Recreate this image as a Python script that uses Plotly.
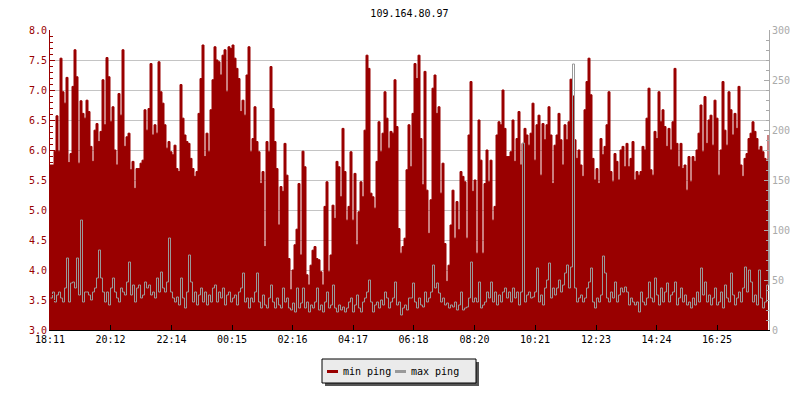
import plotly.graph_objects as go

# ---------------- data ----------------
start_label = "18:11"
sample_minutes = 4  # one sample every 4 minutes (2 px in the reference)

tick_labels = ["18:11", "20:12", "22:14", "00:15", "02:16", "04:17",
               "06:18", "08:20", "10:21", "12:23", "14:24", "16:25"]

# min ping (left axis)
min_ping = [
    # 18:11 - 22:10
    5.75, 5.75, 5.98, 6.57, 5.98, 7.53, 6.97, 6.78, 7.21, 5.79,
    5.94, 7.06, 7.67, 7.22, 5.78, 6.82, 6.61, 6.53, 6.83, 6.64,
    6.06, 5.81, 6.33, 6.44, 6.14, 6.31, 7.17, 6.42, 7.54, 7.22,
    6.47, 6.72, 6.00, 5.75, 6.94, 6.58, 7.67, 6.06, 6.22, 6.28,
    5.67, 5.81, 5.36, 5.69, 5.69, 5.78, 5.83, 6.67, 6.33, 6.69,
    7.44, 6.25, 6.42, 6.28, 7.47, 6.97, 6.78, 6.42, 6.03, 6.14,
    # 22:11 - 02:10
    5.97, 5.92, 6.08, 5.69, 5.64, 7.09, 6.53, 6.25, 6.14, 6.11,
    5.86, 5.69, 5.56, 5.64, 6.61, 7.19, 7.75, 5.89, 6.28, 5.97,
    6.67, 7.17, 7.72, 7.50, 7.47, 7.25, 7.58, 7.67, 6.97, 7.72,
    7.69, 7.75, 7.53, 7.36, 7.19, 6.64, 6.83, 6.58, 7.25, 7.72,
    5.97, 6.19, 6.72, 6.14, 5.97, 5.44, 5.64, 4.39, 6.14, 5.97,
    7.39, 6.69, 6.14, 5.69, 4.75, 5.39, 5.31, 6.11, 5.58, 4.19,
    # 02:11 - 06:10
    3.67, 4.00, 4.42, 4.68, 5.44, 4.25, 5.98, 5.72, 3.92, 3.75,
    4.08, 4.33, 4.39, 4.19, 4.17, 3.97, 3.75, 5.06, 5.47, 3.97,
    4.25, 5.08, 4.86, 5.81, 5.72, 5.22, 6.36, 5.64, 4.83, 5.06,
    5.97, 4.83, 5.61, 4.42, 4.97, 5.47, 5.22, 6.33, 7.58, 7.36,
    5.28, 5.22, 5.03, 5.81, 6.47, 5.97, 6.28, 6.97, 6.53, 6.03,
    6.31, 6.28, 7.17, 6.39, 4.69, 4.28, 4.39, 4.53, 5.67, 6.42,
    # 06:11 - 10:10
    5.72, 6.61, 7.44, 7.19, 7.58, 6.19, 5.42, 7.31, 5.33, 4.61,
    5.17, 7.03, 7.25, 6.61, 6.72, 5.28, 5.78, 4.44, 3.81, 4.08,
    4.75, 5.33, 4.53, 5.14, 4.67, 5.64, 5.56, 5.47, 4.53, 6.25,
    7.14, 5.31, 5.50, 4.28, 6.50, 5.83, 4.28, 5.44, 6.00, 5.47,
    5.83, 4.83, 5.06, 6.25, 6.47, 6.42, 7.00, 6.36, 5.89, 5.89,
    5.97, 6.50, 5.81, 6.19, 6.64, 5.75, 6.11, 6.36, 6.25, 6.08,
    # 10:11 - 14:10
    6.28, 6.78, 5.83, 6.42, 6.58, 5.58, 6.44, 6.17, 6.42, 6.72,
    6.25, 5.44, 6.08, 6.25, 6.61, 6.17, 5.75, 6.42, 6.17, 6.47,
    7.18, 6.90, 6.17, 5.86, 6.00, 5.75, 5.56, 6.67, 7.14, 7.53,
    6.92, 5.86, 5.50, 5.69, 5.44, 6.19, 5.92, 6.06, 6.42, 6.97,
    5.64, 5.47, 5.94, 5.81, 5.50, 6.00, 6.06, 5.72, 6.11, 5.72,
    5.86, 6.14, 5.50, 5.64, 5.58, 5.64, 6.06, 6.00, 6.53, 7.03,
    # 14:11 - 18:10
    5.67, 5.58, 6.31, 6.19, 6.97, 6.47, 6.67, 6.39, 6.06, 6.36,
    6.00, 6.47, 7.36, 6.11, 5.72, 6.11, 5.69, 5.75, 5.33, 5.89,
    5.47, 5.89, 5.81, 6.00, 6.28, 6.75, 5.97, 6.89, 6.11, 6.50,
    6.58, 6.08, 6.83, 6.53, 5.58, 6.00, 7.14, 6.33, 6.08, 6.97,
    6.67, 6.25, 6.61, 6.36, 7.06, 5.75, 5.56, 5.86, 5.94, 6.19,
    6.28, 6.47, 6.31, 6.19, 6.00, 6.06, 5.97, 5.86, 5.83, 6.25,
]

# max ping (right axis)
max_ping = [
    32, 38, 28, 35, 38, 32, 28, 42, 72, 28, 47, 48, 42, 72, 35, 110, 28, 38, 38, 35,
    30, 38, 42, 52, 80, 52, 38, 28, 38, 25, 42, 52, 38, 32, 28, 42, 38, 35, 48, 68,
    35, 45, 28, 42, 45, 32, 35, 48, 42, 45, 35, 38, 32, 52, 38, 58, 42, 38, 48, 92,
    38, 32, 28, 33, 25, 52, 32, 22, 38, 75, 48, 28, 38, 25, 35, 42, 28, 38, 25, 35,
    28, 42, 45, 28, 38, 32, 42, 25, 35, 38, 28, 32, 35, 25, 38, 42, 57, 28, 32, 22,
    32, 28, 38, 57, 28, 22, 35, 25, 22, 32, 45, 28, 22, 32, 25, 22, 42, 28, 32, 22,
    20, 27, 18, 42, 22, 27, 42, 22, 28, 18, 25, 22, 28, 42, 20, 25, 18, 28, 38, 22,
    25, 45, 22, 18, 25, 20, 23, 18, 22, 28, 32, 18, 25, 35, 22, 18, 28, 32, 38, 50,
    28, 18, 25, 28, 22, 30, 25, 38, 32, 22, 28, 32, 48, 25, 28, 15, 22, 25, 20, 32,
    32, 47, 28, 22, 32, 25, 23, 38, 28, 32, 38, 65, 42, 47, 37, 28, 32, 25, 27, 22,
    25, 23, 28, 20, 25, 38, 20, 22, 23, 32, 68, 28, 32, 28, 48, 22, 25, 28, 38, 32,
    48, 28, 38, 25, 35, 28, 38, 42, 32, 38, 28, 42, 32, 38, 25, 38, 187, 28, 35, 38,
    32, 33, 38, 62, 28, 35, 25, 42, 50, 67, 32, 42, 35, 42, 50, 38, 45, 57, 65, 42,
    63, 266, 42, 28, 32, 35, 28, 32, 42, 48, 62, 28, 22, 32, 28, 35, 74, 57, 32, 28,
    38, 32, 48, 28, 35, 42, 38, 43, 38, 25, 32, 28, 25, 28, 18, 38, 28, 25, 32, 48,
    32, 28, 52, 35, 25, 42, 28, 38, 47, 28, 35, 38, 48, 25, 32, 42, 28, 35, 25, 28,
    22, 32, 25, 38, 28, 62, 35, 48, 28, 35, 25, 32, 42, 25, 28, 38, 22, 45, 32, 28,
    57, 35, 25, 32, 38, 28, 42, 63, 38, 60, 48, 28, 35, 25, 60, 32, 22, 28, 45, 172,
]

series_names = ["min ping", "max ping"]
title_text = "109.164.80.97"

# ---------------- helpers ----------------
def to_min(label):
    h, m = label.split(":")
    return int(h) * 60 + int(m)

t0 = to_min(start_label)
tick_vals = [(to_min(t) - t0) % 1440 for t in tick_labels]
times = [i * sample_minutes for i in range(len(min_ping))]
# half-pixel offset so the 1px grey steps land on pixel centres (crisp)
times_line = [t + 1 for t in times]

RED = "#990000"
GREY = "#999999"
AXGREY = "#aaaaaa"
FONT = "DejaVu Sans Mono"

# plot area in pixels: x 50..769, y 30..330
L, R, T, B = 50, 769, 30, 330
def px(x):
    return (x - L) / (R - L)
def py(y):
    return (B - y) / (B - T)

fig = go.Figure()
fig.add_trace(go.Scatter(
    x=times, y=min_ping, name=series_names[0], mode="lines",
    line=dict(color=RED, width=1, shape="hv"),
    fill="tozeroy", fillcolor=RED, yaxis="y", showlegend=False,
))
fig.add_trace(go.Scatter(
    x=times_line, y=max_ping, name=series_names[1], mode="lines",
    line=dict(color=GREY, width=1, shape="hv"),
    yaxis="y2", showlegend=False,
))

fig.update_layout(
    width=800, height=400,
    margin=dict(l=L, r=800 - R, t=T, b=400 - B, autoexpand=False),
    paper_bgcolor="white", plot_bgcolor="white",
    font=dict(family=FONT, size=10, color="black"),
    title=dict(text=title_text, x=0.5, xref="paper", xanchor="center",
               y=1 - 13 / 400, yref="container", yanchor="middle",
               font=dict(family=FONT, size=10, color="black")),
    xaxis=dict(
        range=[0, 1438], tickvals=tick_vals, ticktext=tick_labels,
        ticks="inside", ticklen=5, tickcolor="black", tickwidth=1,
        showline=True, linecolor="black", linewidth=1,
        showgrid=False, zeroline=False,
        tickfont=dict(family=FONT, size=10, color="black"),
    ),
    yaxis=dict(
        range=[3, 8], dtick=0.5, tick0=3, tickformat=".1f",
        ticks="inside", ticklen=5, tickcolor=RED, tickwidth=1,
        showline=True, linecolor=RED, linewidth=1,
        showgrid=True, gridcolor="#c4c4c4", gridwidth=1, zeroline=False,
        tickfont=dict(family=FONT, size=10, color=RED),
        minor=dict(ticks="inside", dtick=0.1, ticklen=3, tickcolor=RED, showgrid=False),
    ),
    yaxis2=dict(
        range=[0, 300], dtick=50, tick0=0, overlaying="y", side="right",
        ticks="inside", ticklen=5, tickcolor=AXGREY, tickwidth=1,
        showline=True, linecolor=AXGREY, linewidth=1,
        showgrid=False, zeroline=False,
        tickfont=dict(family=FONT, size=10, color=AXGREY),
        minor=dict(ticks="inside", dtick=10, ticklen=3, tickcolor=AXGREY, showgrid=False),
    ),
)

# legend box drawn by hand (shadow, box, swatches, labels)
shapes = [
    dict(type="rect", xref="paper", yref="paper", x0=px(325), x1=px(479), y0=py(362), y1=py(386),
         fillcolor="#555555", line=dict(width=0), layer="above"),
    dict(type="rect", xref="paper", yref="paper", x0=px(322), x1=px(476), y0=py(359), y1=py(383),
         fillcolor="#ebebeb", line=dict(color="black", width=1), layer="above"),
    dict(type="line", xref="paper", yref="paper", x0=px(327), x1=px(338), y0=py(371.5), y1=py(371.5),
         line=dict(color=RED, width=3), layer="above"),
    dict(type="line", xref="paper", yref="paper", x0=px(395), x1=px(406), y0=py(371.5), y1=py(371.5),
         line=dict(color=GREY, width=3), layer="above"),
]
annotations = [
    dict(text=series_names[0], xref="paper", yref="paper", x=px(341), y=py(371),
         xanchor="left", yanchor="middle", showarrow=False,
         font=dict(family=FONT, size=10, color="black")),
    dict(text=series_names[1], xref="paper", yref="paper", x=px(409), y=py(371),
         xanchor="left", yanchor="middle", showarrow=False,
         font=dict(family=FONT, size=10, color="black")),
]
fig.update_layout(shapes=shapes, annotations=annotations)

fig.write_html(
    "out.html",
    config={"displayModeBar": False},
    post_script="document.body.style.margin='0';document.body.style.padding='0';",
)
